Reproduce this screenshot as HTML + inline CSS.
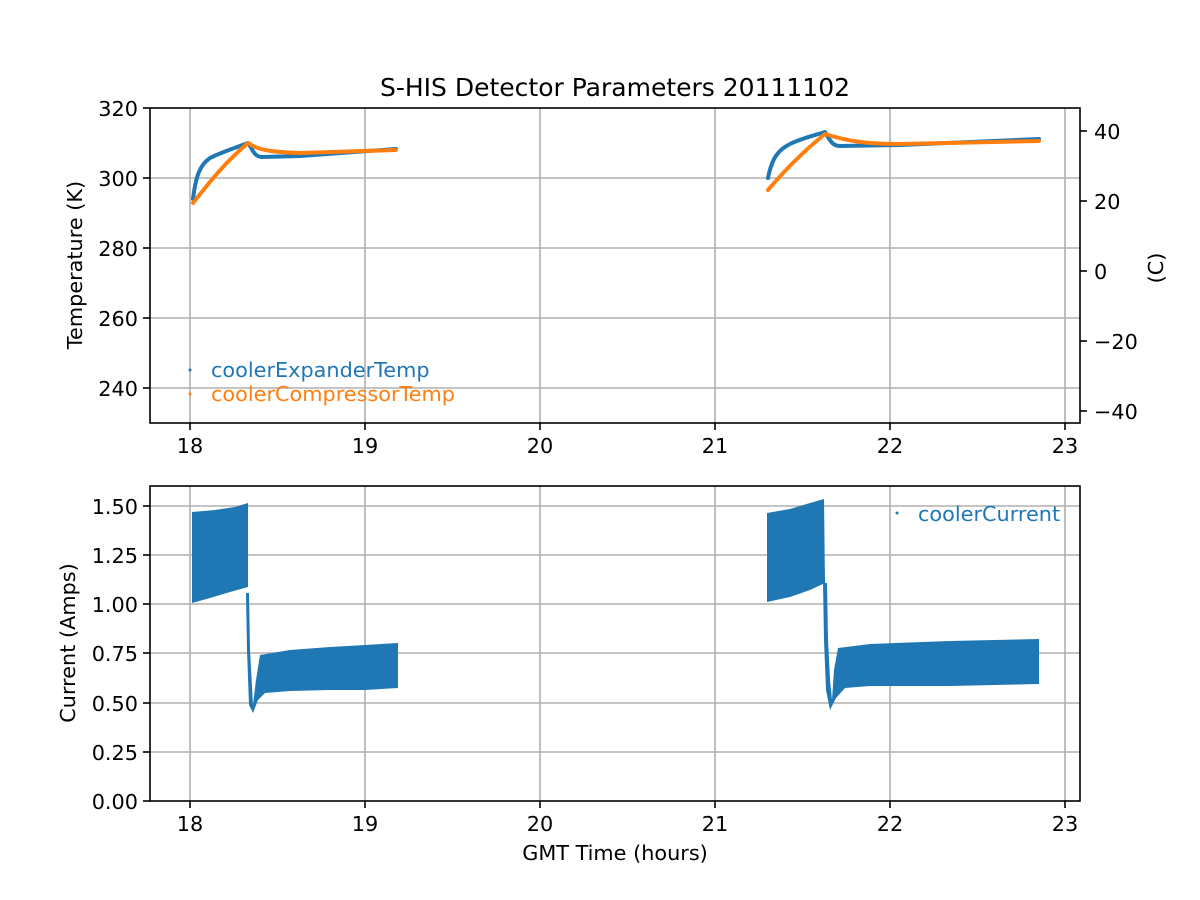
<!DOCTYPE html>
<html><head><meta charset="utf-8"><style>
html,body{margin:0;padding:0;background:#fff}
svg{display:block}
text{font-family:"DejaVu Sans","Liberation Sans",sans-serif;fill:#000}
</style></head><body>
<svg width="1200" height="900" viewBox="0 0 1200 900" xmlns="http://www.w3.org/2000/svg">
<rect width="1200" height="900" fill="#fff"/>
<!-- TOP grid -->
<g stroke="#b0b0b0" stroke-width="1.6">
<line x1="190" y1="108" x2="190" y2="423"/><line x1="365" y1="108" x2="365" y2="423"/><line x1="540" y1="108" x2="540" y2="423"/><line x1="715" y1="108" x2="715" y2="423"/><line x1="890" y1="108" x2="890" y2="423"/><line x1="1065" y1="108" x2="1065" y2="423"/>
<line x1="150" y1="178" x2="1080" y2="178"/><line x1="150" y1="248" x2="1080" y2="248"/><line x1="150" y1="318" x2="1080" y2="318"/><line x1="150" y1="388" x2="1080" y2="388"/>
</g>
<g fill="none" stroke-width="4" stroke-linecap="round" stroke-linejoin="round">
<path stroke="#1f77b4" d="M193,199 C196,175 200,165 210,158 C222,152 235,148 248,143 C252,148 254,157 262,157 L300,156 L396,149"/>
<path stroke="#ff7f0e" d="M193,203 C205,188 222,165 248,143 C258,150 270,152 300,153 L396,150"/>
<path stroke="#1f77b4" d="M768,178 C772,158 778,150 790,144 C800,139 812,136 825,132 C830,140 832,146 840,146 L900,145 L1039,139"/>
<path stroke="#ff7f0e" d="M768,190 C785,170 805,150 825,134 C850,142 870,144 900,144 L1039,141"/>
</g>
<rect x="150" y="108" width="930" height="315" fill="none" stroke="#000" stroke-width="1.6"/>
<g stroke="#000" stroke-width="1.6">
<line x1="190" y1="423" x2="190" y2="430"/><line x1="365" y1="423" x2="365" y2="430"/><line x1="540" y1="423" x2="540" y2="430"/><line x1="715" y1="423" x2="715" y2="430"/><line x1="890" y1="423" x2="890" y2="430"/><line x1="1065" y1="423" x2="1065" y2="430"/>
<line x1="143" y1="108" x2="150" y2="108"/><line x1="143" y1="178" x2="150" y2="178"/><line x1="143" y1="248" x2="150" y2="248"/><line x1="143" y1="318" x2="150" y2="318"/><line x1="143" y1="388" x2="150" y2="388"/>
<line x1="1080" y1="131" x2="1087" y2="131"/><line x1="1080" y1="201" x2="1087" y2="201"/><line x1="1080" y1="271" x2="1087" y2="271"/><line x1="1080" y1="341" x2="1087" y2="341"/><line x1="1080" y1="411" x2="1087" y2="411"/>
</g>
<g font-size="20.8" text-anchor="end">
<text x="138" y="116">320</text><text x="138" y="186">300</text><text x="138" y="256">280</text><text x="138" y="326">260</text><text x="138" y="396">240</text>
</g>
<g font-size="20.8" text-anchor="start">
<text x="1094" y="139">40</text><text x="1094" y="209">20</text><text x="1094" y="279">0</text><text x="1094" y="349">−20</text><text x="1094" y="419">−40</text>
</g>
<g font-size="20.8" text-anchor="middle">
<text x="190" y="453">18</text><text x="365" y="453">19</text><text x="540" y="453">20</text><text x="715" y="453">21</text><text x="890" y="453">22</text><text x="1065" y="453">23</text>
</g>
<text x="615" y="96" font-size="25" text-anchor="middle">S-HIS Detector Parameters 20111102</text>
<text transform="translate(82,265) rotate(-90)" font-size="20.8" text-anchor="middle">Temperature (K)</text>
<text transform="translate(1163,268) rotate(-90)" font-size="20.8" text-anchor="middle">(C)</text>
<circle cx="190" cy="370" r="1.5" fill="#1f77b4"/>
<circle cx="190" cy="394" r="1.5" fill="#ff7f0e"/>
<text x="211" y="377" font-size="20.8" style="fill:#1f77b4">coolerExpanderTemp</text>
<text x="211" y="401" font-size="20.8" style="fill:#ff7f0e">coolerCompressorTemp</text>

<!-- BOTTOM grid -->
<g stroke="#b0b0b0" stroke-width="1.6">
<line x1="190" y1="486" x2="190" y2="801"/><line x1="365" y1="486" x2="365" y2="801"/><line x1="540" y1="486" x2="540" y2="801"/><line x1="715" y1="486" x2="715" y2="801"/><line x1="890" y1="486" x2="890" y2="801"/><line x1="1065" y1="486" x2="1065" y2="801"/>
<line x1="150" y1="506" x2="1080" y2="506"/><line x1="150" y1="555" x2="1080" y2="555"/><line x1="150" y1="604" x2="1080" y2="604"/><line x1="150" y1="653" x2="1080" y2="653"/><line x1="150" y1="703" x2="1080" y2="703"/><line x1="150" y1="752" x2="1080" y2="752"/>
</g>
<g fill="#1f77b4">
<polygon points="192,512 215,510 235,507 248,503 248,587 230,592 210,598 192,603"/>
<polygon points="246,593 249,593 250,650 253,705 256,680 260,655 290,650 330,647 365,645 398,643 398,688 365,690 330,690 290,691 265,693 258,700 253,713 249,705 247,650"/>
<polygon points="767,513 790,509 810,503 824,499 825,583 810,590 790,597 767,602"/>
<polygon points="823,583 827,583 828,640 830,680 832,700 834,670 838,648 870,644 950,641 1039,639 1039,684 950,686 870,686 845,688 836,698 830,710 826,690 824,640"/>
</g>
<rect x="150" y="486" width="930" height="315" fill="none" stroke="#000" stroke-width="1.6"/>
<g stroke="#000" stroke-width="1.6">
<line x1="190" y1="801" x2="190" y2="808"/><line x1="365" y1="801" x2="365" y2="808"/><line x1="540" y1="801" x2="540" y2="808"/><line x1="715" y1="801" x2="715" y2="808"/><line x1="890" y1="801" x2="890" y2="808"/><line x1="1065" y1="801" x2="1065" y2="808"/>
<line x1="143" y1="506" x2="150" y2="506"/><line x1="143" y1="555" x2="150" y2="555"/><line x1="143" y1="604" x2="150" y2="604"/><line x1="143" y1="653" x2="150" y2="653"/><line x1="143" y1="703" x2="150" y2="703"/><line x1="143" y1="752" x2="150" y2="752"/><line x1="143" y1="801" x2="150" y2="801"/>
</g>
<g font-size="20.8" text-anchor="end">
<text x="138" y="514">1.50</text><text x="138" y="563">1.25</text><text x="138" y="612">1.00</text><text x="138" y="661">0.75</text><text x="138" y="711">0.50</text><text x="138" y="760">0.25</text><text x="138" y="809">0.00</text>
</g>
<g font-size="20.8" text-anchor="middle">
<text x="190" y="831">18</text><text x="365" y="831">19</text><text x="540" y="831">20</text><text x="715" y="831">21</text><text x="890" y="831">22</text><text x="1065" y="831">23</text>
</g>
<text x="615" y="860" font-size="20.8" text-anchor="middle">GMT Time (hours)</text>
<text transform="translate(75,643) rotate(-90)" font-size="20.8" text-anchor="middle">Current (Amps)</text>
<circle cx="897" cy="513" r="1.5" fill="#1f77b4"/>
<text x="918" y="521" font-size="20.8" style="fill:#1f77b4">coolerCurrent</text>
</svg>
</body></html>
